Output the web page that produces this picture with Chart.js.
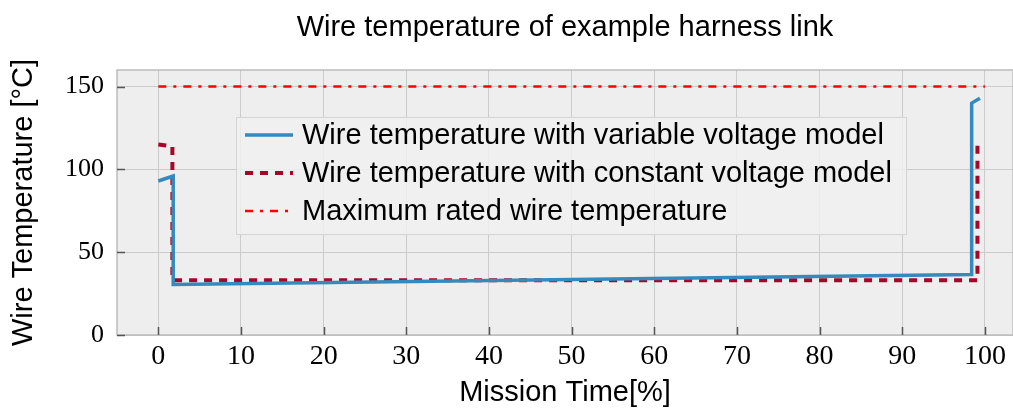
<!DOCTYPE html>
<html>
<head>
<meta charset="utf-8">
<script src="https://cdn.jsdelivr.net/npm/chart.js@4"></script>
<style>
  html, body { margin: 0; padding: 0; background: #ffffff; }
  #wrap { width: 1013px; height: 412px; }
</style>
</head>
<body>
<div id="wrap"><canvas id="wireChart" width="1013" height="412"></canvas></div>
<script>
// data
const variableTime = [0, 1.8, 1.8, 98.4, 98.4, 99.4];
const variableTemp = [93, 96, 30.5, 36.5, 140, 143];
const constantTime = [0, 1.7, 1.7, 99.1, 99.1];
const constantTemp = [115, 114, 33, 33, 115];
const maxTime = [0, 100];
const maxTemp = [150, 150];
const xTickValues = [0, 10, 20, 30, 40, 50, 60, 70, 80, 90, 100];
const yTickValues = [0, 50, 100, 150];
const seriesLabels = [
  'Wire temperature with variable voltage model',
  'Wire temperature with constant voltage model',
  'Maximum rated wire temperature'
];

const toPoints = (xs, ys) => xs.map((x, i) => ({ x: x, y: ys[i] }));

const ctx = document.getElementById('wireChart').getContext('2d');

// plot background + frame + inward ticks + title
const plotFrame = {
  id: 'plotFrame',
  beforeDraw(chart) {
    const a = chart.chartArea;
    const c = chart.ctx;
    c.save();
    c.fillStyle = '#eeeeee';
    c.fillRect(a.left, a.top, a.right - a.left, a.bottom - a.top);
    c.restore();
  },
  afterDraw(chart) {
    const a = chart.chartArea;
    const c = chart.ctx;
    const xs = chart.scales.x, ys = chart.scales.y;
    c.save();
    c.strokeStyle = '#bcbcbc';
    c.lineWidth = 1.5;
    c.strokeRect(a.left, a.top, a.right - a.left, a.bottom - a.top);
    c.strokeStyle = '#555555';
    c.lineWidth = 1.5;
    c.beginPath();
    yTickValues.forEach(v => {
      const py = Math.round(ys.getPixelForValue(v)) + 0.5;
      c.moveTo(a.left, py); c.lineTo(a.left + 8, py);
    });
    xTickValues.forEach(v => {
      const px = Math.round(xs.getPixelForValue(v)) + 0.5;
      c.moveTo(px, a.bottom); c.lineTo(px, a.bottom - 8);
    });
    c.stroke();

    c.fillStyle = '#000000';
    c.font = '29px "Liberation Sans"';
    c.textAlign = 'center';
    c.textBaseline = 'middle';
    c.fillText('Wire temperature of example harness link', (a.left + a.right) / 2, 28);
    c.restore();
  }
};

// legend box drawn in the middle of the plot
const innerLegend = {
  id: 'innerLegend',
  afterDatasetsDraw(chart) {
    const c = chart.ctx;
    const box = { left: 236, top: 117, right: 906, bottom: 234 };
    c.save();
    c.fillStyle = 'rgba(240,240,240,0.85)';
    c.fillRect(box.left, box.top, box.right - box.left, box.bottom - box.top);
    c.strokeStyle = '#d4d4d4';
    c.lineWidth = 1;
    c.strokeRect(box.left + 0.5, box.top + 0.5, box.right - box.left, box.bottom - box.top);
    const rows = [135, 173, 211];
    c.font = '29px "Liberation Sans"';
    c.textBaseline = 'middle';
    c.textAlign = 'left';
    chart.data.datasets.forEach((ds, i) => {
      const y = rows[i];
      c.beginPath();
      c.strokeStyle = ds.borderColor;
      c.lineWidth = ds.borderWidth;
      c.setLineDash(ds.borderDash || []);
      c.moveTo(245, y); c.lineTo(293, y);
      c.stroke();
      c.setLineDash([]);
      c.fillStyle = '#000000';
      c.fillText(ds.label, 302, y + 1);
    });
    c.restore();
  }
};

new Chart(ctx, {
  type: 'line',
  data: {
    datasets: [
      {
        label: seriesLabels[0],
        data: toPoints(variableTime, variableTemp),
        borderColor: '#348abd',
        borderWidth: 3.5,
        pointRadius: 0,
        tension: 0
      },
      {
        label: seriesLabels[1],
        data: toPoints(constantTime, constantTemp),
        borderColor: '#a60628',
        borderWidth: 4,
        borderDash: [8, 7],
        pointRadius: 0,
        tension: 0
      },
      {
        label: seriesLabels[2],
        data: toPoints(maxTime, maxTemp),
        borderColor: '#ff0000',
        borderWidth: 2.5,
        borderDash: [8, 7, 3, 7],
        pointRadius: 0,
        tension: 0
      }
    ]
  },
  options: {
    responsive: false,
    animation: false,
    layout: { padding: { top: 70, right: 0, bottom: 0, left: 0 } },
    plugins: {
      legend: { display: false },
      title: { display: false },
      tooltip: { enabled: false }
    },
    scales: {
      x: {
        type: 'linear',
        min: -5,
        max: 103.4,
        afterBuildTicks: s => { s.ticks = xTickValues.map(v => ({ value: v })); },
        afterFit: s => { s.height = 77; },
        grid: { color: '#cbcbcb', lineWidth: 1, drawTicks: false },
        border: { display: false },
        ticks: {
          padding: 5,
          color: '#000000',
          font: { family: '"Liberation Serif"', size: 28 },
          maxRotation: 0
        },
        title: {
          display: true,
          text: 'Mission Time[%]',
          color: '#000000',
          font: { family: '"Liberation Sans"', size: 29 },
          padding: { top: 0, bottom: 1.5 }
        }
      },
      y: {
        min: 0,
        max: 160,
        afterBuildTicks: s => { s.ticks = yTickValues.map(v => ({ value: v })); },
        afterFit: s => { s.width = 117; },
        grid: { color: '#cbcbcb', lineWidth: 1, drawTicks: false },
        border: { display: false },
        ticks: {
          padding: 13,
          color: '#000000',
          font: { family: '"Liberation Serif"', size: 26 }
        },
        title: {
          display: true,
          text: 'Wire Temperature [°C]',
          color: '#000000',
          font: { family: '"Liberation Sans"', size: 29 },
          padding: { top: 7, bottom: 0 }
        }
      }
    }
  },
  plugins: [plotFrame, innerLegend]
});
</script>
</body>
</html>
